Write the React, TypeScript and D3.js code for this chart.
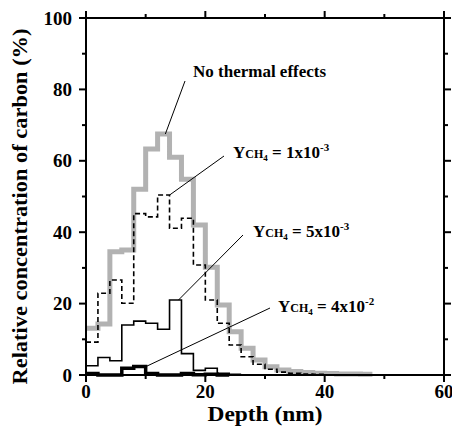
import React, { useEffect, useRef } from 'react';
import * as d3 from 'd3';

// bins are 2 nm wide, value = relative concentration (%)
const binWidth = 2;
const noThermal = [13.1, 14.3, 34.5, 35, 52, 63.3, 67.5, 61, 54.8, 42, 30.2, 19.6, 12.1, 7.5, 4.2, 2.3, 1.4, 1.0, 0.7, 0.5, 0.4, 0.3, 0.3, 0.2];
const ych4_1e3 = [9.2, 22.9, 26.6, 20.1, 45.2, 44.3, 50.4, 41.1, 43.9, 30.8, 21, 14.5, 8.4, 5.1, 3.0, 1.6, 0.8, 0.5, 0.3, 0.2];
const ych4_5e3 = [2.6, 4.9, 4.0, 14, 15.1, 14.5, 12.8, 21, 6, 1.3, 1.9, 0.5, 0.2];
const ych4_4e2 = [0.4, 0, 0, 1.9, 2.4, 0.4, 0, 0, 0.4, 0.1, 0.2, 0];

const xTicks = [0, 20, 40, 60];
const yTicks = [0, 20, 40, 60, 80, 100];
const xMinor = [10, 30, 50];
const yMinor = [10, 30, 50, 70, 90];

const FONT = '"Liberation Serif", "Times New Roman", serif';

function stepPoints(values: number[]) {
  const pts = values.map((v, i) => [i * binWidth, v] as [number, number]);
  pts.push([values.length * binWidth, values[values.length - 1]]);
  return pts;
}

const App = () => {
  const ref = useRef<SVGSVGElement | null>(null);

  useEffect(() => {
    const root = d3.select(ref.current);
    root.selectAll('*').remove();

    const left = 86;
    const right = 444;
    const top = 18;
    const bottom = 375;

    const x = d3.scaleLinear().domain([0, 60]).range([left, right]);
    const y = d3.scaleLinear().domain([0, 100]).range([bottom, top]);

    const line = d3
      .line<[number, number]>()
      .x((d) => x(d[0]))
      .y((d) => y(d[1]))
      .curve(d3.curveStepAfter);

    const plot = root.append('g');

    plot
      .append('path')
      .attr('d', line(stepPoints(noThermal)))
      .attr('fill', 'none')
      .attr('stroke', '#b2b2b2')
      .attr('stroke-width', 5);

    plot
      .append('path')
      .attr('d', line(stepPoints(ych4_1e3)))
      .attr('fill', 'none')
      .attr('stroke', '#000')
      .attr('stroke-width', 1.6)
      .attr('stroke-dasharray', '5,3');

    plot
      .append('path')
      .attr('d', line(stepPoints(ych4_5e3)))
      .attr('fill', 'none')
      .attr('stroke', '#000')
      .attr('stroke-width', 1.6);

    plot
      .append('path')
      .attr('d', line(stepPoints(ych4_4e2)))
      .attr('fill', 'none')
      .attr('stroke', '#000')
      .attr('stroke-width', 3.5);

    // frame
    const axes = root.append('g').attr('stroke', '#000').attr('stroke-width', 2);
    axes
      .append('rect')
      .attr('x', left)
      .attr('y', top)
      .attr('width', right - left)
      .attr('height', bottom - top)
      .attr('fill', 'none');

    // outward ticks on all four sides
    const tick = (x1: number, y1: number, x2: number, y2: number) =>
      axes.append('line').attr('x1', x1).attr('y1', y1).attr('x2', x2).attr('y2', y2);

    xTicks.forEach((t) => {
      tick(x(t), bottom, x(t), bottom + 7);
      tick(x(t), top, x(t), top - 7);
    });
    xMinor.forEach((t) => {
      tick(x(t), bottom, x(t), bottom + 4);
      tick(x(t), top, x(t), top - 4);
    });
    yTicks.forEach((t) => {
      tick(left, y(t), left - 7, y(t));
      tick(right, y(t), right + 7, y(t));
    });
    yMinor.forEach((t) => {
      tick(left, y(t), left - 4, y(t));
      tick(right, y(t), right + 4, y(t));
    });

    const labels = root.append('g').attr('font-family', FONT).attr('font-weight', 'bold').attr('fill', '#000');

    xTicks.forEach((t) => {
      labels
        .append('text')
        .attr('x', x(t))
        .attr('y', 398)
        .attr('text-anchor', 'middle')
        .attr('font-size', 19)
        .text(t);
    });
    yTicks.forEach((t) => {
      labels
        .append('text')
        .attr('x', left - 14)
        .attr('y', y(t))
        .attr('dy', '0.35em')
        .attr('text-anchor', 'end')
        .attr('font-size', 19)
        .text(t);
    });

    labels
      .append('text')
      .attr('x', (left + right) / 2)
      .attr('y', 421)
      .attr('text-anchor', 'middle')
      .attr('font-size', 22)
      .attr('textLength', 115)
      .attr('lengthAdjust', 'spacingAndGlyphs')
      .text('Depth (nm)');

    labels
      .append('text')
      .attr('transform', `translate(27,${(top + bottom) / 2 + 10}) rotate(-90)`)
      .attr('text-anchor', 'middle')
      .attr('font-size', 21)
      .attr('textLength', 356)
      .attr('lengthAdjust', 'spacingAndGlyphs')
      .text('Relative concentration of carbon (%)');

    // annotations
    labels
      .append('text')
      .attr('x', 193)
      .attr('y', 77)
      .attr('font-size', 17)
      .text('No thermal effects');

    const ych4Label = (tx: number, ty: number, coef: string, exp: string) => {
      const t = labels.append('text').attr('x', tx).attr('y', ty).attr('font-size', 17);
      t.append('tspan').text('Y');
      t.append('tspan').attr('font-size', 12).text('CH');
      t.append('tspan').attr('font-size', 9).attr('dy', 3).text('4');
      t.append('tspan').attr('dy', -3).text(` = ${coef}x10`);
      t.append('tspan').attr('font-size', 11).attr('dy', -7).text(exp);
    };
    ych4Label(233, 158, '1', '-3');
    ych4Label(253, 237, '5', '-3');
    ych4Label(278, 312, '4', '-2');

    const leaders = root.append('g').attr('stroke', '#000').attr('stroke-width', 1);
    const leader = (d0: number, v0: number, x1: number, y1: number) =>
      leaders.append('line').attr('x1', x(d0)).attr('y1', y(v0)).attr('x2', x1).attr('y2', y1);
    leader(13.3, noThermal[6], 185, 81);
    leader(14, ych4_1e3[6], 224, 156);
    leader(15.5, ych4_5e3[7], 243, 235);
    leader(10.1, ych4_4e2[4], 270, 308);
  }, []);

  return (
    <div style={{ position: 'absolute', left: 0, top: 0 }}>
      <svg ref={ref} width={452} height={438} style={{ display: 'block' }} />
    </div>
  );
};

export default App;
